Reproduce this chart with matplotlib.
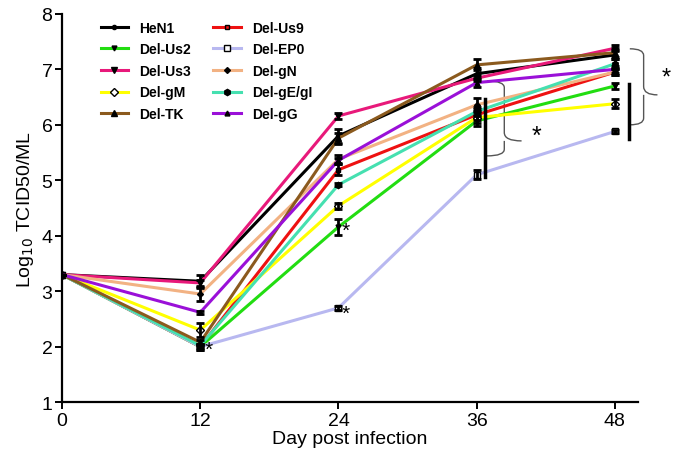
import numpy as np
import matplotlib
matplotlib.use("Agg")
import matplotlib.pyplot as plt
from matplotlib.path import Path
from matplotlib.patches import PathPatch

plt.rcParams['font.family'] = ['Liberation Sans', 'DejaVu Sans']

# data
days = [0, 12, 24, 36, 48]
names = ["HeN1", "Del-Us9", "Del-Us2", "Del-EP0", "Del-Us3", "Del-gN",
         "Del-gM", "Del-gE/gI", "Del-TK", "Del-gG"]
heN1 = [3.3, 3.18, 5.80, 6.92, 7.26]
us9 = [3.3, 2.00, 5.19, 6.18, 6.95]
us2 = [3.3, 2.00, 4.16, 6.07, 6.70]
ep0 = [3.3, 2.00, 2.70, 5.10, 5.88]
us3 = [3.3, 3.15, 6.16, 6.84, 7.38]
gN = [3.3, 2.95, 5.38, 6.36, 6.95]
gM = [3.3, 2.30, 4.54, 6.13, 6.38]
gEgI = [3.3, 2.02, 4.92, 6.24, 7.10]
tk = [3.3, 2.08, 5.76, 7.08, 7.30]
gG = [3.3, 2.62, 5.36, 6.76, 7.00]
errs = {
    "HeN1": [0, 0.12, 0.12, 0.1, 0.08],
    "Del-Us9": [0, 0.05, 0.1, 0.1, 0.05],
    "Del-Us2": [0, 0.05, 0.14, 0.1, 0.05],
    "Del-EP0": [0, 0.03, 0.03, 0.08, 0.03],
    "Del-Us3": [0, 0.05, 0.05, 0.05, 0.05],
    "Del-gN": [0, 0.12, 0.08, 0.12, 0.05],
    "Del-gM": [0, 0.12, 0.05, 0.1, 0.08],
    "Del-gE/gI": [0, 0.03, 0.03, 0.08, 0.08],
    "Del-TK": [0, 0.05, 0.1, 0.1, 0.08],
    "Del-gG": [0, 0.03, 0.05, 0.08, 0.06],
}
series = [heN1, us9, us2, ep0, us3, gN, gM, gEgI, tk, gG]
colors = ["#000000", "#ee1111", "#22dd11", "#b8b8f0", "#e8197a", "#f2b283",
          "#ffff00", "#45e0b0", "#8b5a1e", "#9a10d8"]
markers = ["o", "s", "v", "s", "v", "D", "D", "h", "^", "^"]
msizes = [3, 3, 3.5, 4, 4.5, 3, 4.5, 4.5, 5, 3.5]
mfaces = ["k", "#ee1111", "k", "white", "k", "k", "white", "k", "k", "k"]

fig = plt.figure(figsize=(6.75, 4.64), dpi=100)
ax = fig.add_axes([0.092, 0.131, 0.853, 0.837])

handles = {}
for name, vals, c, m, ms, mf in zip(names, series, colors, markers, msizes, mfaces):
    ax.errorbar(days, vals, yerr=errs[name], fmt="none", ecolor="k",
                elinewidth=2, capsize=3, capthick=2, zorder=3)
    ln, = ax.plot(days, vals, color=c, lw=2.2, marker=m, ms=ms,
                  mfc=mf, mec="k", mew=1, zorder=2)
    handles[name] = ln

# legend, filled column by column
order = ["HeN1", "Del-Us2", "Del-Us3", "Del-gM", "Del-TK",
         "Del-Us9", "Del-EP0", "Del-gN", "Del-gE/gI", "Del-gG"]
ax.legend([handles[n] for n in order], order, ncol=2, frameon=False,
          loc="upper left", bbox_to_anchor=(0.045, 1.015),
          prop={"weight": "bold", "size": 10}, handlelength=2.0,
          columnspacing=1.6, labelspacing=0.55, markerscale=1.0)

# significance marks
ax.text(12.4, 1.95, "*", fontsize=15, ha="left", va="center")
ax.text(24.3, 4.1, "*", fontsize=15, ha="left", va="center")
ax.text(24.3, 2.6, "*", fontsize=15, ha="left", va="center")
ax.plot([36.7, 36.7], [5.06, 6.47], color="k", lw=2.5)
ax.plot([49.2, 49.2], [5.75, 6.74], color="k", lw=2.5, clip_on=False)


def brace(x0, x1, ylo, yhi, ymid):
    # curly brace opening to the left, tip at x1
    xm = (x0 + x1) / 2
    verts = [(x0, yhi), (xm, yhi), (xm, yhi - 0.12),
             (xm, ymid + 0.15), (xm, ymid), (x1, ymid),
             (xm, ymid), (xm, ymid - 0.15),
             (xm, ylo + 0.12), (xm, ylo), (x0, ylo)]
    codes = [Path.MOVETO, Path.CURVE3, Path.CURVE3,
             Path.LINETO, Path.CURVE3, Path.CURVE3,
             Path.MOVETO, Path.LINETO,
             Path.LINETO, Path.CURVE3, Path.CURVE3]
    ax.add_patch(PathPatch(Path(verts, codes), fc="none", ec="#555555",
                           lw=1.0, clip_on=False))


brace(36.9, 39.9, 5.44, 6.79, 5.71)
brace(49.3, 51.7, 6.0, 7.37, 6.54)
ax.text(40.8, 5.8, "*", fontsize=18, ha="left", va="center")
ax.text(52.5, 6.85, "*", fontsize=17, ha="center", va="center", clip_on=False)

ax.set_xlim(0, 50)
ax.set_ylim(1, 8)
ax.set_xticks(days)
ax.set_yticks(range(1, 9))
ax.spines["top"].set_visible(False)
ax.spines["right"].set_visible(False)
ax.spines["left"].set_linewidth(1.6)
ax.spines["bottom"].set_linewidth(1.6)
ax.tick_params(width=1.4, length=5, labelsize=14, pad=2)
ax.set_xlabel("Day post infection", fontsize=14, labelpad=1)
ax.set_ylabel("Log$_{10}$ TCID50/ML", fontsize=14)

fig.savefig("out.png", dpi=100)
